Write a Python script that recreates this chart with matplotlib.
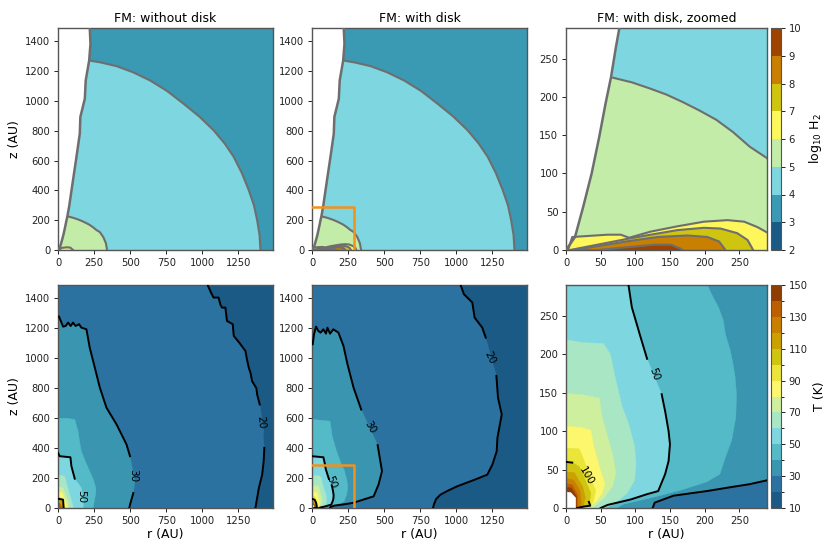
import numpy as np
import matplotlib
matplotlib.use('Agg')
import matplotlib.pyplot as plt
from matplotlib.colors import ListedColormap, BoundaryNorm
from matplotlib.cm import ScalarMappable

# band colours
h2_levels = [2, 3, 4, 5, 6, 7, 8, 9, 10]
h2_colors = ['#1b5a84', '#3a99b3', '#7dd6e0', '#c2eca8', '#fdf75c', '#cfc510', '#c97f00', '#9e4300']
t_levels = [10, 20, 30, 40, 50, 60, 70, 80, 90, 100, 110, 120, 130, 140, 150]
t_colors = ['#1b5a84', '#2c72a0', '#3a96b0', '#55bac7', '#7dd6e0', '#a8e6c4', '#cdef9e',
            '#fdf76e', '#ebe53a', '#cfc510', '#cca000', '#c97f00', '#bd5f00', '#8f3d00']

# H2 contours (r, z) in AU
cavity = [(0, 1490), (220, 1490), (225, 1384), (216, 1272), (192, 1138), (186, 1016), (155, 893),
          (151, 781), (128, 625), (104, 469), (77, 290), (72, 265), (65, 226), (57, 191),
          (48, 148), (37, 100), (25, 57), (13, 17), (0, 0)]
h2_4 = [(216, 1272), (300, 1258), (406, 1234), (520, 1193), (638, 1138), (755, 1068), (870, 982),
        (980, 895), (1078, 804), (1155, 715), (1218, 625), (1275, 515), (1322, 402), (1358, 300),
        (1380, 201), (1397, 100), (1403, 0)]
h2_5 = [(68, 225), (95, 219), (121, 211), (145, 203), (169, 193), (193, 182), (217, 170), (241, 154),
        (265, 135), (290, 120), (315, 85), (332, 45), (340, 0)]
h2_6_nodisk = [(7, 0), (25, 14), (60, 18), (85, 16), (104, 0)]
h2_6 = [(3, 0), (9, 17), (26, 18), (60, 20), (79, 20), (91, 16), (122, 24), (161, 31), (199, 37),
        (233, 39), (257, 37), (276, 30), (290, 23), (302, 12), (307, 0)]
h2_7 = [(6, 0), (91, 15), (122, 20), (161, 26), (199, 29), (223, 28), (247, 22), (262, 13), (270, 0)]
h2_8 = [(11, 0), (93, 12), (132, 17), (175, 19), (204, 17), (221, 11), (230, 0)]
h2_9 = [(45, 0), (93, 4), (127, 7), (151, 7), (165, 2), (168, 0)]

# T contours without disk
nd_t20 = [(0, 1490), (1037, 1490), (1060, 1440), (1078, 1406), (1113, 1406), (1125, 1360), (1136, 1339),
          (1160, 1339), (1171, 1250), (1211, 1228), (1218, 1150), (1260, 1100), (1299, 1049), (1310, 990),
          (1322, 938), (1335, 900), (1345, 848), (1375, 800), (1380, 759), (1398, 692), (1426, 513),
          (1422, 480), (1430, 402), (1425, 310), (1415, 223), (1392, 134), (1380, 67), (1368, 0)]
nd_t30 = [(0, 1279), (7, 1279), (35, 1212), (53, 1216), (70, 1239), (88, 1216), (104, 1239), (122, 1216),
          (146, 1228), (162, 1205), (197, 1194), (220, 1071), (255, 938), (290, 804), (336, 670),
          (406, 558), (475, 424), (499, 346), (533, 179), (522, 100), (499, 22), (494, 0)]
nd_t40 = [(0, 598), (60, 600), (116, 591), (128, 550), (139, 513), (150, 440), (162, 379), (190, 310),
          (220, 245), (245, 190), (262, 134), (262, 100), (255, 67), (243, 0)]
nd_t50 = [(0, 368), (12, 346), (86, 339), (93, 279), (116, 196), (162, 134), (178, 45), (174, 0)]
nd_t60 = [(0, 223), (46, 212), (74, 112), (109, 0)]
nd_t70 = [(0, 145), (35, 134), (70, 45), (74, 0)]
nd_t80 = [(0, 112), (30, 100), (58, 22), (65, 0)]
nd_t90 = [(0, 78), (23, 67), (46, 22), (51, 0)]
nd_t100 = [(0, 62), (35, 56), (39, 0)]
nd_t120 = [(0, 33), (12, 33), (30, 0)]

# T contours with disk
d_t20 = [(0, 1490), (1030, 1490), (1053, 1428), (1111, 1373), (1127, 1272), (1180, 1205), (1204, 1138),
         (1278, 882), (1289, 737), (1315, 625), (1285, 469), (1280, 379), (1250, 290), (1215, 223),
         (1130, 190), (1006, 145), (940, 115), (890, 89), (860, 60), (844, 22), (839, 0)]
d_t30 = [(0, 1094), (5, 1094), (14, 1161), (28, 1212), (44, 1183), (60, 1172), (79, 1194), (97, 1165),
         (107, 1205), (125, 1165), (148, 1194), (183, 1172), (218, 1083), (246, 960), (288, 804),
         (341, 658), (455, 420), (485, 246), (461, 156), (427, 78), (290, 36), (265, 31), (237, 27),
         (203, 22), (155, 16), (128, 7), (125, 0)]
d_t40 = [(0, 592), (125, 580), (140, 480), (170, 380), (205, 288), (210, 278), (220, 261), (227, 244),
         (230, 226), (237, 205), (241, 187), (244, 170), (246, 148), (245, 118), (239, 88), (230, 66),
         (222, 44), (203, 34), (165, 23), (126, 14), (107, 10), (83, 5), (73, 0)]
d_t50 = [(0, 346), (79, 339), (90, 291), (95, 261), (107, 224), (112, 209), (117, 194), (138, 148),
         (143, 126), (148, 100), (150, 83), (148, 61), (143, 44), (133, 22), (117, 18), (93, 11),
         (60, 4), (50, 0)]
d_t60 = [(0, 219), (25, 215), (54, 214), (64, 200), (72, 166), (81, 132), (91, 108), (99, 80), (101, 58),
         (99, 36), (88, 19), (69, 5), (55, 0)]
d_t70 = [(0, 149), (26, 147), (48, 143), (52, 119), (60, 93), (68, 67), (72, 45), (67, 28), (55, 13), (38, 0)]
d_t80 = [(0, 106), (21, 105), (36, 101), (40, 80), (48, 54), (56, 32), (52, 19), (43, 8), (31, 0)]
d_t90 = [(0, 78), (19, 77), (26, 62), (36, 36), (43, 23), (40, 10), (36, 3), (30, 0)]
d_t100 = [(0, 60), (9, 59), (19, 54), (28, 36), (36, 19), (33, 4), (21, 0)]
d_t110 = [(0, 47), (12, 46), (24, 28), (28, 13), (24, 0)]
d_t120 = [(0, 39), (11, 36), (20, 23), (22, 6), (20, 0)]
d_t130 = [(0, 32), (9, 30), (17, 17), (17, 0)]
d_t140 = [(0, 27), (8, 26), (15, 15), (15, 0)]
d_hole = [(0, 21), (7, 20), (14, 13), (14, 0)]
d_line100 = [(0, 60), (9, 59), (19, 54), (28, 36), (33, 8), (35, 3), (26, 2), (16, 0)]

box_r = [0, 290, 290]
box_z = [290, 290, 0]
sliver_r = [800, 1490]
sliver_z = [2, 2]
sliver_zoom_r = [155, 290]
sliver_zoom_z = [0.4, 0.4]

titles = ['FM: without disk', 'FM: with disk', 'FM: with disk, zoomed']
ticks_big_x = [0, 250, 500, 750, 1000, 1250]
ticks_big_y = [0, 200, 400, 600, 800, 1000, 1200, 1400]
ticks_zoom = [0, 50, 100, 150, 200, 250]
W, H = 831, 550


def add_axes(x0, y0, x1, y1):
    # pixel box, y from the top
    return fig.add_axes([x0 / W, 1 - y1 / H, (x1 - x0) / W, (y1 - y0) / H])


def region(ax, pts, color):
    pts = np.array(pts, dtype=float)
    # close the region along the axes through the origin
    r = np.r_[pts[:, 0], 0]
    z = np.r_[pts[:, 1], 0]
    ax.fill(r, z, facecolor=color, edgecolor=color, lw=0.3)


def outline(ax, pts, lw=1.5):
    pts = np.array(pts, dtype=float)
    ax.plot(pts[:, 0], pts[:, 1], color=gray, lw=lw, zorder=3)


def line(ax, pts, gap=None):
    # black contour, with an optional gap in z for its label
    pts = np.array(pts, dtype=float)
    if gap is None:
        ax.plot(pts[:, 0], pts[:, 1], color='black', lw=1.4, zorder=3)
        return
    top = pts[pts[:, 1] >= gap[1]]
    low = pts[pts[:, 1] <= gap[0]]
    ax.plot(top[:, 0], top[:, 1], color='black', lw=1.4, zorder=3)
    ax.plot(low[:, 0], low[:, 1], color='black', lw=1.4, zorder=3)


def setup(ax, lim, xt, yt):
    ax.set_xlim(0, lim)
    ax.set_ylim(0, lim)
    ax.set_xticks(xt)
    ax.set_yticks(yt)
    ax.tick_params(labelsize=7.2, length=3, width=0.7, pad=2.5, colors='#222222')
    for s in ax.spines.values():
        s.set_color('#555555')
        s.set_linewidth(1.0)


def draw_h2(ax, disk):
    ax.set_facecolor(h2_colors[1])
    region(ax, h2_4, h2_colors[2])
    # the green region has to reach the r=0 side under the cavity
    region(ax, [(0, 225)] + h2_5, h2_colors[3])
    outline(ax, h2_4)
    outline(ax, h2_5)
    if disk:
        for c, col in zip([h2_6, h2_7, h2_8, h2_9], h2_colors[4:]):
            region(ax, c, col)
            outline(ax, c)
    else:
        region(ax, h2_6_nodisk, h2_colors[4])
        outline(ax, h2_6_nodisk)
    region(ax, cavity, 'white')
    outline(ax, cavity[1:], lw=1.8)


def draw_t_disk(ax, zoomed):
    ax.set_facecolor(t_colors[0])
    conts = [d_t20, d_t30, d_t40, d_t50, d_t60, d_t70, d_t80, d_t90, d_t100, d_t110, d_t120, d_t130, d_t140]
    for i, c in enumerate(conts):
        region(ax, c, t_colors[i + 1])
    region(ax, d_hole, 'white')
    line(ax, d_t20[1:], gap=(900, 1100))
    line(ax, d_t30[1:], gap=(430, 650))
    line(ax, d_t50, gap=(150, 190))
    if zoomed:
        line(ax, d_line100[:2])
        line(ax, d_line100[4:])
    else:
        line(ax, d_line100)


gray = '#6e6e6e'
fig = plt.figure(figsize=(W / 100, H / 100), dpi=100)

# top row
ax1 = add_axes(58, 28, 273, 250)
draw_h2(ax1, False)
setup(ax1, 1490, ticks_big_x, ticks_big_y)
ax1.set_ylabel('z (AU)', fontsize=9, labelpad=3)
ax1.set_title(titles[0], fontsize=9, pad=4)

ax2 = add_axes(312, 28, 527, 250)
draw_h2(ax2, True)
ax2.plot(box_r, box_z, color='#f2921d', lw=1.8, zorder=5)
setup(ax2, 1490, ticks_big_x, ticks_big_y)
ax2.set_title(titles[1], fontsize=9, pad=4)

ax3 = add_axes(566, 28, 767, 250)
draw_h2(ax3, True)
setup(ax3, 290, ticks_zoom, ticks_zoom)
ax3.set_title(titles[2], fontsize=9, pad=4)

# bottom row
ax4 = add_axes(58, 285, 273, 508)
ax4.set_facecolor(t_colors[0])
for i, c in enumerate([nd_t20, nd_t30, nd_t40, nd_t50, nd_t60, nd_t70, nd_t80, nd_t90]):
    region(ax4, c, t_colors[i + 1])
region(ax4, nd_t100, t_colors[10])
region(ax4, nd_t120, t_colors[12])
line(ax4, nd_t20[1:], gap=(420, 690))
line(ax4, nd_t30[1:], gap=(101, 345))
line(ax4, nd_t50[:5])
line(ax4, nd_t100)
ax4.plot(sliver_r, sliver_z, color='white', lw=0.7)
setup(ax4, 1490, ticks_big_x, ticks_big_y)
ax4.set_xlabel('r (AU)', fontsize=9, labelpad=2)
ax4.set_ylabel('z (AU)', fontsize=9, labelpad=3)
for txt, r, z, rot in [('20', 1408, 576, -85), ('30', 522, 219, -90), ('50', 162, 78, -90)]:
    ax4.text(r, z, txt, fontsize=7.5, rotation=rot, ha='center', va='center')

ax5 = add_axes(312, 285, 527, 508)
draw_t_disk(ax5, False)
ax5.plot(sliver_r, sliver_z, color='white', lw=0.7)
ax5.plot(box_r, box_z, color='#f2921d', lw=1.8, zorder=5)
setup(ax5, 1490, ticks_big_x, ticks_big_y)
ax5.set_xlabel('r (AU)', fontsize=9, labelpad=2)
for txt, r, z, rot in [('20', 1231, 1004, -65), ('30', 403, 542, -60), ('50', 130, 174, -70)]:
    ax5.text(r, z, txt, fontsize=7.5, rotation=rot, ha='center', va='center')

ax6 = add_axes(566, 285, 767, 508)
draw_t_disk(ax6, True)
ax6.plot(sliver_zoom_r, sliver_zoom_z, color='white', lw=0.7)
setup(ax6, 290, ticks_zoom, ticks_zoom)
ax6.set_xlabel('r (AU)', fontsize=9, labelpad=2)
for txt, r, z, rot in [('50', 128, 174, -70), ('100', 29, 41, -60)]:
    ax6.text(r, z, txt, fontsize=7.5, rotation=rot, ha='center', va='center')

# colorbars
cax1 = add_axes(771, 28, 781, 250)
sm1 = ScalarMappable(BoundaryNorm(h2_levels, len(h2_colors)), ListedColormap(h2_colors))
cb1 = fig.colorbar(sm1, cax=cax1, ticks=h2_levels)
cb1.set_label(r'log$_{10}$ H$_2$', fontsize=9, labelpad=4)

cax2 = add_axes(771, 285, 781, 508)
sm2 = ScalarMappable(BoundaryNorm(t_levels, len(t_colors)), ListedColormap(t_colors))
cb2 = fig.colorbar(sm2, cax=cax2, ticks=t_levels[::2])
cb2.set_label('T (K)', fontsize=9, labelpad=4)

for cb in [cb1, cb2]:
    cb.ax.tick_params(labelsize=7.2, length=3, width=0.7, pad=2.5, colors='#222222')
    cb.outline.set_edgecolor('#555555')

fig.savefig('out.png', dpi=100)
